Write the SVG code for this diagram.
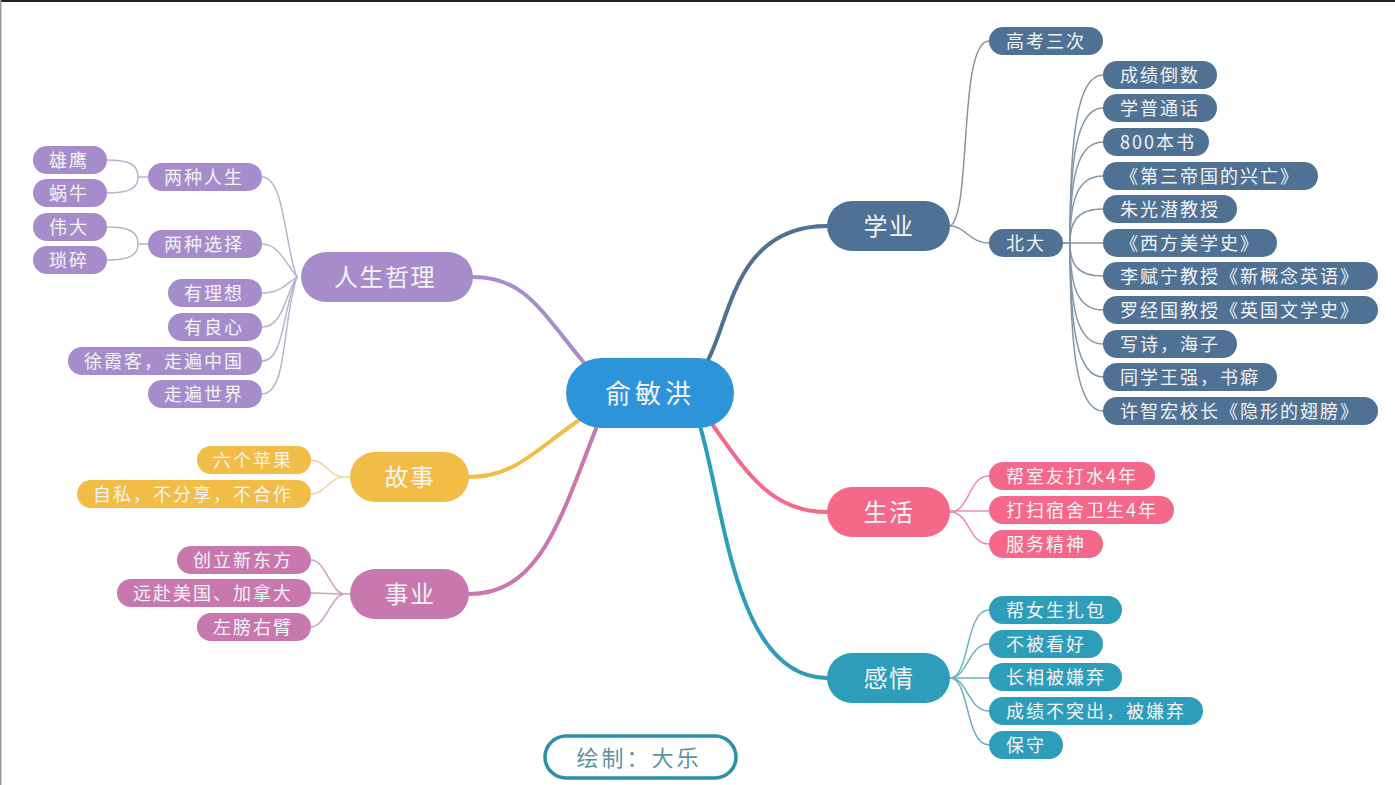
<svg xmlns="http://www.w3.org/2000/svg" width="1395" height="785" viewBox="0 0 1395 785">
<style>
text{font-family:"Noto Sans CJK SC","Noto Sans",sans-serif;fill:#f4f4f6;dominant-baseline:central;transform:translateY(-1.5px)}
.c{font-size:18px;letter-spacing:2px}
.m{font-size:24px;letter-spacing:1.5px;text-anchor:middle}
.r{font-size:26px;letter-spacing:4px;text-anchor:middle}
path{fill:none;stroke-linecap:round}
.w{stroke-width:4}
.t{stroke-width:1.5}
.blue{fill:#4f7194}.pur{fill:#a78ccb}.yel{fill:#f2bd47}.mag{fill:#c878ae}.red{fill:#f4688a}.teal{fill:#2d9dba}
</style>
<rect width="1395" height="785" fill="#fff"/>
<rect x="0" y="0" width="1395" height="2" fill="#222"/>
<rect x="0" y="0" width="1.5" height="785" fill="#999"/>
<g id="connectors">
<path class="w" stroke="#4f7194" d="M708 360C730 320 735 226 827 226"/>
<path class="w" stroke="#f4688a" d="M712 424C745 470 770 512 827 512"/>
<path class="w" stroke="#2d9dba" d="M700 426C725 510 735 678 827 678"/>
<path class="w" stroke="#a78ccb" d="M473 277C525 277 540 310 585 364"/>
<path class="w" stroke="#f2bd47" d="M469 477C515 477 535 450 582 418"/>
<path class="w" stroke="#c878ae" d="M469 594C540 594 560 520 597 426"/>
<g stroke="#8396a6">
<path class="t" d="M950 226C972 215 958 41 989 41"/>
<path class="t" d="M950 226C965 226 970 243 989 243"/>
<path class="t" d="M1063 243H1070C1070 142 1076 75 1103 75"/>
<path class="t" d="M1070 243C1070 162 1076 108 1103 108"/>
<path class="t" d="M1070 243C1070 182 1076 142 1103 142"/>
<path class="t" d="M1070 243C1070 203 1076 176 1103 176"/>
<path class="t" d="M1070 243C1070 223 1076 209 1103 209"/>
<path class="t" d="M1063 243H1103"/>
<path class="t" d="M1070 243C1070 263 1076 276 1103 276"/>
<path class="t" d="M1070 243C1070 283 1076 310 1103 310"/>
<path class="t" d="M1070 243C1070 304 1076 344 1103 344"/>
<path class="t" d="M1070 243C1070 323 1076 377 1103 377"/>
<path class="t" d="M1070 243C1070 344 1076 411 1103 411"/>
</g>
<g stroke="#b9b4cc">
<path class="t" d="M297 277C285 250 285 177 262 177"/>
<path class="t" d="M297 277C285 262 278 244 262 244"/>
<path class="t" d="M297 277C285 285 280 293 262 293"/>
<path class="t" d="M297 277C285 295 283 327 262 327"/>
<path class="t" d="M297 277C283 305 285 361 262 361"/>
<path class="t" d="M297 277C282 320 288 394 262 394"/>
<path class="t" d="M148 177H138M107 160C130 160 138 165 138 177C138 188 130 193 107 193"/>
<path class="t" d="M148 244H138M107 227C130 227 138 232 138 244C138 255 130 260 107 260"/>
</g>
<g stroke="#eed5a0">
<path class="t" d="M350 477H343C330 477 325 460 311 460"/>
<path class="t" d="M343 477C330 477 325 494 311 494"/>
</g>
<g stroke="#cda3b8">
<path class="t" d="M350 594H343C330 590 325 560 311 560"/>
<path class="t" d="M343 594L311 593"/>
<path class="t" d="M343 594C330 598 325 627 311 627"/>
</g>
<g stroke="#f08ea5">
<path class="t" d="M950 512C970 512 968 476 989 476"/>
<path class="t" d="M950 511H989"/>
<path class="t" d="M950 512C970 512 968 544 989 544"/>
</g>
<g stroke="#6fb0bd">
<path class="t" d="M950 678C970 678 965 610 989 610"/>
<path class="t" d="M950 678C968 678 968 644 989 644"/>
<path class="t" d="M950 678H989"/>
<path class="t" d="M950 678C968 678 968 711 989 711"/>
<path class="t" d="M950 678C970 678 965 745 989 745"/>
</g>
</g>
<g id="root"><rect x="566" y="358" width="168" height="70" rx="35" fill="#2e94d9"/><text class="r" x="650" y="393">俞敏洪</text></g>
<g id="study"><rect class="blue" x="827" y="201" width="123" height="50" rx="25"/><text class="m" x="889" y="226">学业</text></g>
<g id="life"><rect class="red" x="827" y="487" width="123" height="50" rx="25"/><text class="m" x="889" y="512">生活</text></g>
<g id="emotion"><rect class="teal" x="827" y="653" width="123" height="50" rx="25"/><text class="m" x="889" y="678">感情</text></g>
<g id="philosophy"><rect class="pur" x="301" y="252" width="172" height="50" rx="25"/><text class="m" x="385" y="277">人生哲理</text></g>
<g id="story"><rect class="yel" x="350" y="452" width="119" height="50" rx="25"/><text class="m" x="410" y="477">故事</text></g>
<g id="career"><rect class="mag" x="350" y="569" width="119" height="50" rx="25"/><text class="m" x="410" y="594">事业</text></g>
<g id="n1"><rect class="blue" x="989" y="27" width="114" height="28" rx="14"/><text class="c" x="1006" y="41">高考三次</text></g>
<g id="n2"><rect class="blue" x="989" y="229" width="74" height="28" rx="14"/><text class="c" x="1006" y="243">北大</text></g>
<g id="n3"><rect class="blue" x="1103" y="61" width="114" height="28" rx="14"/><text class="c" x="1120" y="75">成绩倒数</text></g>
<g id="n4"><rect class="blue" x="1103" y="94" width="114" height="28" rx="14"/><text class="c" x="1120" y="108">学普通话</text></g>
<g id="n5"><rect class="blue" x="1103" y="128" width="106" height="28" rx="14"/><text class="c" x="1120" y="142">800本书</text></g>
<g id="n6"><rect class="blue" x="1103" y="162" width="215" height="28" rx="14"/><text class="c" x="1120" y="176">《第三帝国的兴亡》</text></g>
<g id="n7"><rect class="blue" x="1103" y="195" width="134" height="28" rx="14"/><text class="c" x="1120" y="209">朱光潜教授</text></g>
<g id="n8"><rect class="blue" x="1103" y="229" width="174" height="28" rx="14"/><text class="c" x="1120" y="243">《西方美学史》</text></g>
<g id="n9"><rect class="blue" x="1103" y="262" width="275" height="28" rx="14"/><text class="c" x="1120" y="276">李赋宁教授《新概念英语》</text></g>
<g id="n10"><rect class="blue" x="1103" y="296" width="275" height="28" rx="14"/><text class="c" x="1120" y="310">罗经国教授《英国文学史》</text></g>
<g id="n11"><rect class="blue" x="1103" y="330" width="134" height="28" rx="14"/><text class="c" x="1120" y="344">写诗，海子</text></g>
<g id="n12"><rect class="blue" x="1103" y="363" width="174" height="28" rx="14"/><text class="c" x="1120" y="377">同学王强，书癖</text></g>
<g id="n13"><rect class="blue" x="1103" y="397" width="275" height="28" rx="14"/><text class="c" x="1120" y="411">许智宏校长《隐形的翅膀》</text></g>
<g id="n14"><rect class="red" x="989" y="462" width="166" height="28" rx="14"/><text class="c" x="1006" y="476">帮室友打水4年</text></g>
<g id="n15"><rect class="red" x="989" y="496" width="185" height="28" rx="14"/><text class="c" x="1006" y="510">打扫宿舍卫生4年</text></g>
<g id="n16"><rect class="red" x="989" y="530" width="114" height="28" rx="14"/><text class="c" x="1006" y="544">服务精神</text></g>
<g id="n17"><rect class="teal" x="989" y="596" width="133" height="28" rx="14"/><text class="c" x="1006" y="610">帮女生扎包</text></g>
<g id="n18"><rect class="teal" x="989" y="630" width="114" height="28" rx="14"/><text class="c" x="1006" y="644">不被看好</text></g>
<g id="n19"><rect class="teal" x="989" y="663" width="133" height="28" rx="14"/><text class="c" x="1006" y="677">长相被嫌弃</text></g>
<g id="n20"><rect class="teal" x="989" y="697" width="214" height="28" rx="14"/><text class="c" x="1006" y="711">成绩不突出，被嫌弃</text></g>
<g id="n21"><rect class="teal" x="989" y="731" width="74" height="28" rx="14"/><text class="c" x="1006" y="745">保守</text></g>
<g id="n22"><rect class="pur" x="148" y="163" width="114" height="28" rx="14"/><text class="c" x="164" y="177">两种人生</text></g>
<g id="n23"><rect class="pur" x="148" y="230" width="114" height="28" rx="14"/><text class="c" x="164" y="244">两种选择</text></g>
<g id="n24"><rect class="pur" x="168" y="279" width="94" height="28" rx="14"/><text class="c" x="184" y="293">有理想</text></g>
<g id="n25"><rect class="pur" x="168" y="313" width="94" height="28" rx="14"/><text class="c" x="184" y="327">有良心</text></g>
<g id="n26"><rect class="pur" x="68" y="347" width="194" height="28" rx="14"/><text class="c" x="84" y="361">徐霞客，走遍中国</text></g>
<g id="n27"><rect class="pur" x="148" y="380" width="114" height="28" rx="14"/><text class="c" x="164" y="394">走遍世界</text></g>
<g id="n28"><rect class="pur" x="33" y="146" width="74" height="28" rx="14"/><text class="c" x="49" y="160">雄鹰</text></g>
<g id="n29"><rect class="pur" x="33" y="179" width="74" height="28" rx="14"/><text class="c" x="49" y="193">蜗牛</text></g>
<g id="n30"><rect class="pur" x="33" y="213" width="74" height="28" rx="14"/><text class="c" x="49" y="227">伟大</text></g>
<g id="n31"><rect class="pur" x="33" y="246" width="74" height="28" rx="14"/><text class="c" x="49" y="260">琐碎</text></g>
<g id="n32"><rect class="yel" x="197" y="446" width="114" height="28" rx="14"/><text class="c" x="213" y="460">六个苹果</text></g>
<g id="n33"><rect class="yel" x="77" y="480" width="234" height="28" rx="14"/><text class="c" x="93" y="494">自私，不分享，不合作</text></g>
<g id="n34"><rect class="mag" x="177" y="546" width="134" height="28" rx="14"/><text class="c" x="193" y="560">创立新东方</text></g>
<g id="n35"><rect class="mag" x="117" y="579" width="194" height="28" rx="14"/><text class="c" x="133" y="593">远赴美国、加拿大</text></g>
<g id="n36"><rect class="mag" x="197" y="613" width="114" height="28" rx="14"/><text class="c" x="213" y="627">左膀右臂</text></g>
<g id="credit"><rect x="545" y="736" width="191" height="42" rx="21" fill="#fff" stroke="#2d8fa8" stroke-width="3.5"/><text x="639" y="757" style="font-size:22px;letter-spacing:3px;text-anchor:middle;fill:#5d93a6">绘制：大乐</text></g>
</svg>
